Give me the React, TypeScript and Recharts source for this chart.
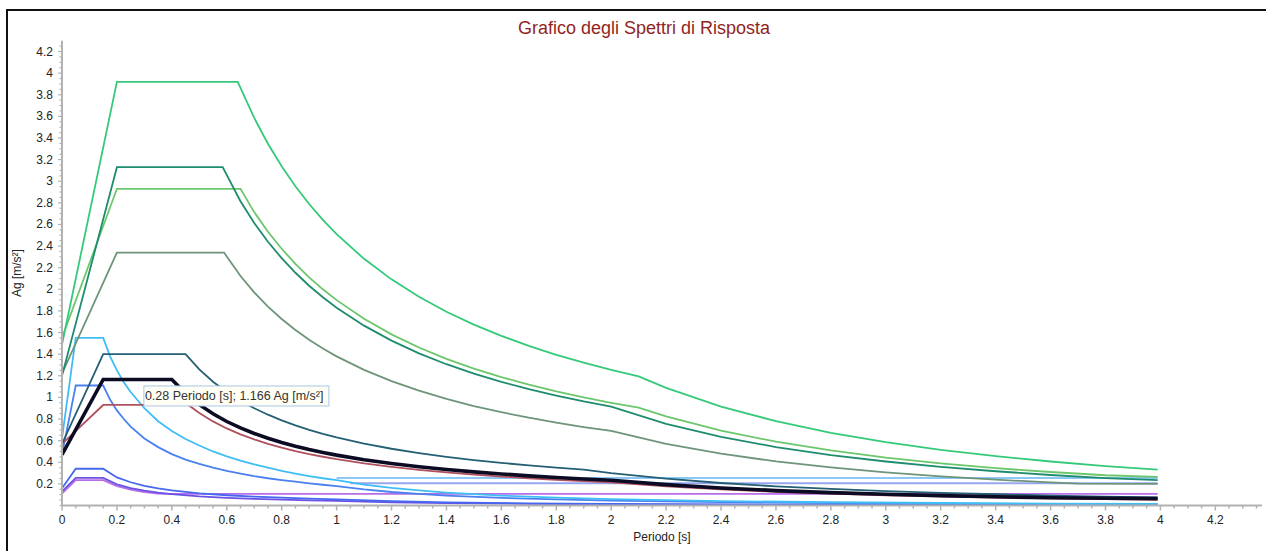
import { LineChart, Line, XAxis, YAxis, ReferenceDot } from "recharts"

// Periodo T [s], Ag [m/s²]
const spettroVerde: [number, number][] = [[0, 1.49], [0.2, 3.92], [0.64, 3.92], [0.7, 3.586], [0.75, 3.347], [0.8, 3.138], [0.85, 2.953], [0.9, 2.789], [0.95, 2.642], [1.0, 2.51], [1.1, 2.282], [1.2, 2.092], [1.3, 1.931], [1.4, 1.793], [1.5, 1.673], [1.6, 1.569], [1.7, 1.476], [1.8, 1.394], [1.9, 1.321], [2.0, 1.255], [2.1, 1.195], [2.2, 1.089], [2.4, 0.915], [2.6, 0.78], [2.8, 0.672], [3.0, 0.586], [3.2, 0.515], [3.4, 0.456], [3.6, 0.407], [3.8, 0.365], [3.99, 0.331]]
const spettroTeal: [number, number][] = [[0, 1.2], [0.2, 3.13], [0.585, 3.13], [0.65, 2.815], [0.7, 2.614], [0.75, 2.44], [0.8, 2.288], [0.85, 2.153], [0.9, 2.033], [0.95, 1.926], [1.0, 1.83], [1.1, 1.664], [1.2, 1.525], [1.3, 1.408], [1.4, 1.307], [1.5, 1.22], [1.6, 1.144], [1.7, 1.076], [1.8, 1.017], [1.9, 0.963], [2.0, 0.915], [2.2, 0.756], [2.4, 0.635], [2.6, 0.541], [2.8, 0.467], [3.0, 0.407], [3.2, 0.357], [3.4, 0.317], [3.6, 0.282], [3.8, 0.253], [3.99, 0.235]]
const spettroVerdeChiaro: [number, number][] = [[0, 1.55], [0.2, 2.93], [0.65, 2.93], [0.7, 2.714], [0.75, 2.533], [0.8, 2.375], [0.85, 2.235], [0.9, 2.111], [0.95, 2.0], [1.0, 1.9], [1.1, 1.727], [1.2, 1.583], [1.3, 1.462], [1.4, 1.357], [1.5, 1.267], [1.6, 1.188], [1.7, 1.118], [1.8, 1.056], [1.9, 1.0], [2.0, 0.95], [2.1, 0.905], [2.2, 0.824], [2.4, 0.693], [2.6, 0.59], [2.8, 0.509], [3.0, 0.443], [3.2, 0.39], [3.4, 0.345], [3.6, 0.31], [3.8, 0.28], [3.99, 0.265]]
const spettroGrigioVerde: [number, number][] = [[0, 1.22], [0.2, 2.34], [0.59, 2.34], [0.65, 2.123], [0.7, 1.971], [0.75, 1.84], [0.8, 1.725], [0.85, 1.624], [0.9, 1.533], [0.95, 1.453], [1.0, 1.38], [1.1, 1.255], [1.2, 1.15], [1.3, 1.062], [1.4, 0.986], [1.5, 0.92], [1.6, 0.863], [1.7, 0.812], [1.8, 0.767], [1.9, 0.726], [2.0, 0.69], [2.2, 0.57], [2.4, 0.479], [2.6, 0.408], [2.8, 0.352], [3.0, 0.307], [3.2, 0.27], [3.4, 0.239], [3.6, 0.213], [3.7, 0.203], [3.99, 0.2]]
const spettroArdesia: [number, number][] = [[0, 0.57], [0.15, 1.4], [0.45, 1.4], [0.5, 1.26], [0.55, 1.145], [0.6, 1.05], [0.65, 0.969], [0.7, 0.9], [0.75, 0.84], [0.8, 0.788], [0.85, 0.741], [0.9, 0.7], [0.95, 0.663], [1.0, 0.63], [1.1, 0.573], [1.2, 0.525], [1.3, 0.485], [1.4, 0.45], [1.5, 0.42], [1.6, 0.394], [1.7, 0.371], [1.8, 0.35], [1.9, 0.332], [2.0, 0.3], [2.2, 0.248], [2.4, 0.208], [2.6, 0.177], [2.8, 0.153], [3.0, 0.133], [3.2, 0.117], [3.4, 0.104], [3.6, 0.092], [3.8, 0.083], [3.99, 0.075]]
const spettroNero: [number, number][] = [[0, 0.47], [0.15, 1.166], [0.4, 1.166], [0.45, 1.036], [0.5, 0.933], [0.55, 0.848], [0.6, 0.777], [0.65, 0.718], [0.7, 0.666], [0.75, 0.622], [0.8, 0.583], [0.85, 0.549], [0.9, 0.518], [0.95, 0.491], [1.0, 0.466], [1.1, 0.424], [1.2, 0.389], [1.3, 0.359], [1.4, 0.333], [1.5, 0.311], [1.6, 0.292], [1.7, 0.274], [1.8, 0.259], [1.9, 0.245], [2.0, 0.233], [2.2, 0.193], [2.4, 0.162], [2.6, 0.138], [2.8, 0.119], [3.0, 0.104], [3.2, 0.091], [3.4, 0.081], [3.6, 0.072], [3.8, 0.067], [3.99, 0.064]]
const spettroBordeaux: [number, number][] = [[0, 0.57], [0.15, 0.93], [0.46, 0.93], [0.5, 0.856], [0.55, 0.778], [0.6, 0.713], [0.65, 0.658], [0.7, 0.611], [0.75, 0.571], [0.8, 0.535], [0.85, 0.504], [0.9, 0.476], [0.95, 0.451], [1.0, 0.428], [1.1, 0.389], [1.2, 0.357], [1.3, 0.329], [1.4, 0.306], [1.5, 0.285], [1.6, 0.268], [1.7, 0.252], [1.8, 0.238], [1.9, 0.225], [2.0, 0.214], [2.2, 0.177], [2.4, 0.149], [2.6, 0.127], [2.8, 0.109], [3.0, 0.095], [3.2, 0.084], [3.4, 0.074], [3.6, 0.066], [3.8, 0.059], [3.99, 0.054]]
const spettroCeleste: [number, number][] = [[0, 0.62], [0.05, 1.55], [0.15, 1.55], [0.175, 1.38], [0.2, 1.25], [0.225, 1.14], [0.25, 1.05], [0.3, 0.9], [0.35, 0.78], [0.4, 0.69], [0.45, 0.615], [0.5, 0.555], [0.55, 0.5], [0.6, 0.455], [0.65, 0.415], [0.7, 0.38], [0.75, 0.35], [0.8, 0.32], [0.85, 0.295], [0.9, 0.272], [0.95, 0.252], [1.0, 0.235], [1.1, 0.194], [1.2, 0.163], [1.3, 0.139], [1.4, 0.12], [1.6, 0.092], [1.8, 0.073], [2.0, 0.059], [2.4, 0.041], [2.8, 0.03], [3.2, 0.023], [3.6, 0.018], [3.99, 0.015]]
const spettroBlu: [number, number][] = [[0, 0.47], [0.05, 1.11], [0.15, 1.11], [0.175, 0.98], [0.2, 0.88], [0.225, 0.8], [0.25, 0.73], [0.3, 0.62], [0.35, 0.54], [0.4, 0.475], [0.45, 0.425], [0.5, 0.385], [0.55, 0.35], [0.6, 0.32], [0.65, 0.295], [0.7, 0.272], [0.75, 0.252], [0.8, 0.235], [0.85, 0.22], [0.9, 0.205], [0.95, 0.192], [1.0, 0.18], [1.1, 0.149], [1.2, 0.125], [1.3, 0.107], [1.4, 0.092], [1.6, 0.07], [1.8, 0.056], [2.0, 0.045], [2.4, 0.031], [2.8, 0.023], [3.2, 0.018], [3.6, 0.014], [3.99, 0.011]]
const spettroBluBasso: [number, number][] = [[0, 0.16], [0.05, 0.34], [0.15, 0.34], [0.2, 0.26], [0.25, 0.215], [0.3, 0.182], [0.35, 0.158], [0.4, 0.14], [0.5, 0.113], [0.6, 0.095], [0.7, 0.082], [0.8, 0.072], [0.9, 0.064], [1.0, 0.057], [1.2, 0.04], [1.4, 0.029], [1.7, 0.02], [2.0, 0.014], [2.5, 0.009], [3.0, 0.0065], [3.5, 0.005], [3.99, 0.004]]
const spettroViola: [number, number][] = [[0, 0.13], [0.05, 0.255], [0.15, 0.255], [0.2, 0.195], [0.25, 0.16], [0.3, 0.137], [0.35, 0.119], [0.4, 0.105], [0.5, 0.085], [0.6, 0.071], [0.7, 0.061], [0.8, 0.054], [0.9, 0.048], [1.0, 0.043], [1.2, 0.03], [1.4, 0.022], [1.7, 0.015], [2.0, 0.011], [2.5, 0.007], [3.0, 0.005], [3.99, 0.003]]
const spettroLilla: [number, number][] = [[0, 0.11], [0.05, 0.235], [0.15, 0.235], [0.2, 0.18], [0.25, 0.147], [0.3, 0.125], [0.35, 0.11], [0.37, 0.108], [3.99, 0.108]]
const sogliaAzzurra: [number, number][] = [[1.0, 0.255], [3.99, 0.255]]
const sogliaLavanda: [number, number][] = [[1.05, 0.205], [3.99, 0.205]]

const X_LABELS = [0, 0.2, 0.4, 0.6, 0.8, 1, 1.2, 1.4, 1.6, 1.8, 2, 2.2, 2.4, 2.6, 2.8, 3, 3.2, 3.4, 3.6, 3.8, 4, 4.2]
const Y_LABELS = [0.2, 0.4, 0.6, 0.8, 1, 1.2, 1.4, 1.6, 1.8, 2, 2.2, 2.4, 2.6, 2.8, 3, 3.2, 3.4, 3.6, 3.8, 4, 4.2]

const PUNTO_T = 0.28
const PUNTO_AG = 1.166

const r2 = (v: number) => Math.round(v * 100) / 100
const minori = (labels: number[], max: number) =>
  [0, ...labels].flatMap((v) => [v, v + 0.05, v + 0.1, v + 0.15]).map(r2).filter((v, i, a) => v <= max && a.indexOf(v) === i)
const xTicks = minori(X_LABELS, 4.35)
const yTicks = minori(Y_LABELS, 4.25)
const isMajor = (labels: number[], v: number) => labels.some((l) => Math.abs(l - v) < 1e-6)

const pts = (arr: [number, number][]) => arr.map(([t, v]) => ({ t, v }))

const serie = [
  { nome: "Lilla", dati: spettroLilla, colore: "#b86ee8", w: 1.8 },
  { nome: "Viola", dati: spettroViola, colore: "#6a52e4", w: 1.8 },
  { nome: "BluBasso", dati: spettroBluBasso, colore: "#4568ee", w: 1.8 },
  { nome: "SogliaAzzurra", dati: sogliaAzzurra, colore: "#8cc8f6", w: 2 },
  { nome: "SogliaLavanda", dati: sogliaLavanda, colore: "#97a6ee", w: 2 },
  { nome: "Blu", dati: spettroBlu, colore: "#4a80f0", w: 1.8 },
  { nome: "Celeste", dati: spettroCeleste, colore: "#3fbdf5", w: 1.8 },
  { nome: "Bordeaux", dati: spettroBordeaux, colore: "#b0505e", w: 1.8 },
  { nome: "Ardesia", dati: spettroArdesia, colore: "#245f73", w: 1.8 },
  { nome: "GrigioVerde", dati: spettroGrigioVerde, colore: "#6e957a", w: 1.8 },
  { nome: "VerdeChiaro", dati: spettroVerdeChiaro, colore: "#6cc76c", w: 1.8 },
  { nome: "Teal", dati: spettroTeal, colore: "#1e8c6e", w: 1.8 },
  { nome: "Verde", dati: spettroVerde, colore: "#35c97a", w: 1.8 },
  { nome: "Nero", dati: spettroNero, colore: "#0b0b24", w: 3.6 },
]

const AXIS = "#b2b2b2"

function XTick({ x, y, payload }: any) {
  const major = isMajor(X_LABELS, payload.value)
  return (
    <g>
      <line x1={x} x2={x} y1={y} y2={y + (major ? 5 : 3)} stroke={AXIS} strokeWidth={1.5} />
      {major && <text x={x} y={y + 18.5} textAnchor="middle" fontSize={12} fill="#222">{String(payload.value)}</text>}
    </g>
  )
}

function YTick({ x, y, payload }: any) {
  const major = isMajor(Y_LABELS, payload.value)
  return (
    <g>
      <line x1={x} x2={x - (major ? 4 : 2.5)} y1={y} y2={y} stroke={AXIS} strokeWidth={1.2} />
      {major && <text x={x - 9} y={y + 4} textAnchor="end" fontSize={12} fill="#222">{String(payload.value)}</text>}
    </g>
  )
}

function BoxValore({ cx, cy }: any) {
  return (
    <g>
      <rect x={cx + 5} y={cy + 6.5} width={185} height={20} fill="#fffff6" stroke="#a9c6e8" strokeWidth={1} />
      <text x={cx + 6} y={cy + 21} fontSize={12.5} fill="#333">{`${PUNTO_T} Periodo [s]; ${PUNTO_AG} Ag [m/s²]`}</text>
    </g>
  )
}

export default function App() {
  return (
    <div style={{ position: "fixed", left: 0, top: 0, width: 1266, height: 551, background: "#fff", overflow: "hidden", fontFamily: "'Liberation Sans', Arial, sans-serif" }}>
      <div style={{ position: "absolute", left: 6, top: 9, width: 1300, height: 600, border: "2px solid #111" }} />
      <div style={{ position: "absolute", left: 644, top: 19, transform: "translateX(-50%)", whiteSpace: "nowrap", fontSize: 18, lineHeight: "18px", color: "#921f22" }}>
        Grafico degli Spettri di Risposta
      </div>
      <div style={{ position: "absolute", left: 0, top: 0 }}>
        <LineChart width={1266} height={551} margin={{ top: 40.7, right: 4, bottom: 5.5, left: 12 }}>
          <XAxis dataKey="t" type="number" domain={[0, 4.37]} ticks={xTicks} interval={0} tick={<XTick />}
            tickLine={false} tickSize={0} tickMargin={0} height={40} axisLine={{ stroke: AXIS, strokeWidth: 2 }}
            allowDataOverflow
            label={{ value: "Periodo [s]", position: "insideBottom", offset: 5, fontSize: 12, fill: "#222" }} />
          <YAxis dataKey="v" type="number" domain={[0, 4.3]} ticks={yTicks} interval={0} tick={<YTick />}
            tickLine={false} tickSize={0} tickMargin={0} width={50} axisLine={{ stroke: AXIS, strokeWidth: 2 }}
            allowDataOverflow
            label={{ value: "Ag [m/s²]", angle: -90, position: "insideLeft", offset: 5, fontSize: 12, fill: "#222", style: { textAnchor: "middle" } }} />
          {serie.map((s) => (
            <Line key={s.nome} data={pts(s.dati)} dataKey="v" type="linear" stroke={s.colore} strokeWidth={s.w}
              dot={false} activeDot={false} isAnimationActive={false} />
          ))}
          <ReferenceDot x={PUNTO_T} y={PUNTO_AG} r={0} shape={<BoxValore />} />
        </LineChart>
      </div>
    </div>
  )
}
